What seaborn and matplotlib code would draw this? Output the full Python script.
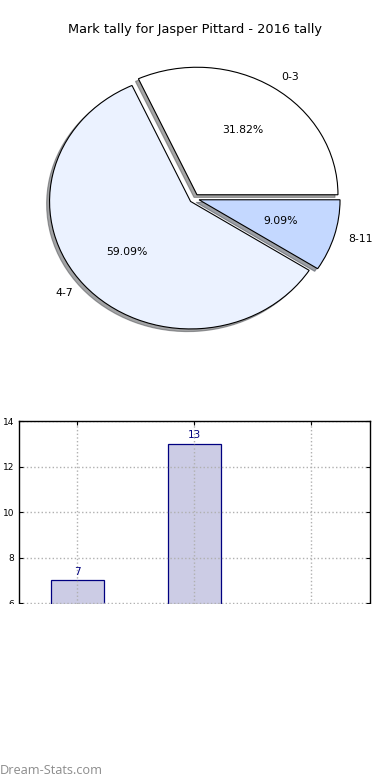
import matplotlib
matplotlib.use('Agg')
import matplotlib.pyplot as plt
import seaborn as sns
from matplotlib.patches import Rectangle

# 数据
bands = ['0-3', '4-7', '8-11']
counts = [7, 13, 2]
slice_colors = ['#ffffff', '#ebf2ff', '#c4d8ff']
explode = [0.035, 0.035, 0.035]

title = 'Mark tally for Jasper Pittard - 2016 tally'
ylabel = 'Number of marks'
watermark = 'Dream-Stats.com'

sns.set_style('white')
plt.rcParams['font.family'] = ['DejaVu Sans']
plt.rcParams['text.color'] = 'black'
plt.rcParams['xtick.color'] = 'black'
plt.rcParams['ytick.color'] = 'black'
plt.rcParams['axes.labelcolor'] = 'black'

fig = plt.figure(figsize=(3.9, 7.8), dpi=100)

# 饼图（旧版 matplotlib 风格，非等比例）
ax1 = fig.add_axes([0.0282, 0.5330, 0.940, 0.425])
ax1.pie(counts, labels=bands, colors=slice_colors, explode=explode,
        autopct='%1.2f%%', shadow={'ox': -0.015, 'oy': -0.015, 'shade': 0.7},
        startangle=0,
        wedgeprops={'edgecolor': 'black', 'linewidth': 0.8},
        textprops={'fontsize': 7.8, 'color': 'black'})
ax1.set_aspect('auto')
ax1.set_xlim(-1.3, 1.3)
ax1.set_ylim(-1.3, 1.3)
ax1.axis('off')

fig.text(0.5, 1 - 30 / 780, title, ha='center', va='center', fontsize=9.3)

# 柱状图
ax2 = fig.add_axes([0.0487, 0.0519, 0.9, 0.4083])
sns.barplot(x=bands, y=counts, width=0.45, color='#ccccE5', saturation=1,
            edgecolor='#000080', linewidth=0.9, ax=ax2)
for i, v in enumerate(counts):
    ax2.text(i, v + 0.15, str(v), ha='center', va='bottom',
             color='#000080', fontsize=7.5)
ax2.set_xlim(-0.5, 2.5)
ax2.set_ylim(0, 14)
ax2.set_yticks(range(0, 15, 2))
ax2.grid(True, linestyle=':', color='#b0b0b0', linewidth=1)
ax2.set_axisbelow(False)
for sp in ax2.spines.values():
    sp.set_color('black')
    sp.set_linewidth(1)
    sp.set_zorder(5)
ax2.tick_params(axis='both', direction='in', labelsize=6.5, length=3,
                left=True, right=True, top=True, bottom=True)
ax2.set_ylabel(ylabel, fontsize=7)
ax2.yaxis.set_label_coords(-0.0456, 0.5)
ax2.set_xlabel('')

# 下半部分被截断的白色遮挡
fig.patches.append(Rectangle((0, 0), 1, 1 - 603.5 / 780, transform=fig.transFigure,
                             facecolor='white', edgecolor='none', zorder=10))
fig.text(0.0, 1 - 770 / 780, watermark, ha='left', va='center', fontsize=9.2,
         color='#8c8c8c', family=['Open Sans', 'DejaVu Sans'], zorder=11)

fig.savefig('out.png', dpi=100)
